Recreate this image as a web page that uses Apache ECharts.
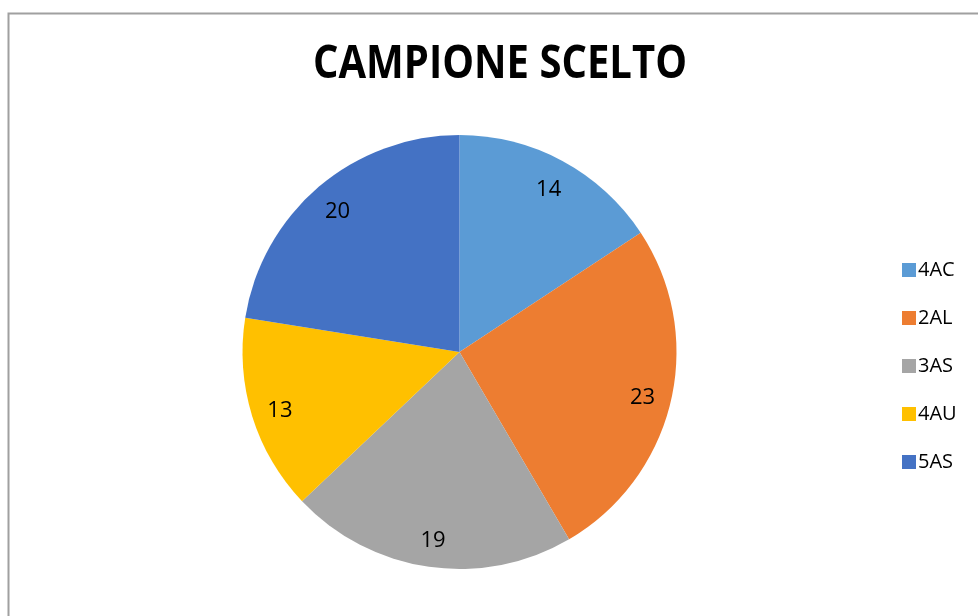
<!DOCTYPE html>
<html>
<head>
<meta charset="utf-8">
<script src="https://cdn.jsdelivr.net/npm/echarts@6/dist/echarts.min.js"></script>
<style>
  html, body { margin: 0; padding: 0; background: #fff; }
  #chart { width: 978px; height: 616px; }
</style>
</head>
<body>
<div id="chart"></div>
<script>
// Sample composition by class
const classes = ['4AC', '2AL', '3AS', '4AU', '5AS'];
const counts = [14, 23, 19, 13, 20];
const colors = ['#5B9BD5', '#ED7D31', '#A5A5A5', '#FFC000', '#4472C4'];
const titleText = 'CAMPIONE SCELTO';

const pieData = classes.map((name, i) => ({
  name: name,
  value: counts[i],
  itemStyle: { color: colors[i] }
}));

const center = [459.5, 352];
const outerR = 217;

// Title is drawn condensed so the heading keeps a compact width
const titleFont = 'bold 47px "Open Sans"';
const titleWidth = 374;
const measureCtx = document.createElement('canvas').getContext('2d');
measureCtx.font = titleFont;
const titleScaleX = titleWidth / measureCtx.measureText(titleText).width;

const chart = echarts.init(document.getElementById('chart'), null, { renderer: 'canvas' });
chart.setOption({
  animation: false,
  backgroundColor: '#ffffff',
  color: colors,
  graphic: [
    {
      type: 'rect',
      shape: { x: 8.5, y: 13.5, width: 1000, height: 700 },
      style: { fill: 'none', stroke: '#a0a0a0', lineWidth: 2 },
      silent: true,
      z: 100
    },
    {
      type: 'text',
      x: 500,
      y: 65,
      scaleX: titleScaleX,
      silent: true,
      style: {
        text: titleText,
        font: titleFont,
        fill: '#000000',
        align: 'center',
        verticalAlign: 'middle'
      }
    }
  ],
  legend: {
    orient: 'vertical',
    left: 897,
    top: 253,
    itemWidth: 14,
    itemHeight: 14,
    itemGap: 24,
    icon: 'rect',
    data: classes,
    textStyle: {
      fontFamily: 'Open Sans',
      fontSize: 20,
      lineHeight: 24,
      color: '#000000',
      padding: [0, 0, 0, -3]
    }
  },
  series: [
    {
      name: 'slices',
      type: 'pie',
      center: center,
      radius: [0, outerR],
      startAngle: 90,
      clockwise: true,
      label: { show: false },
      labelLine: { show: false },
      emphasis: { disabled: true },
      data: pieData
    },
    {
      // Transparent ring used only to place the value labels near the rim
      name: 'values',
      type: 'pie',
      center: center,
      radius: [153, outerR],
      startAngle: 90,
      clockwise: true,
      silent: true,
      legendHoverLink: false,
      itemStyle: { color: 'rgba(0,0,0,0)' },
      label: {
        show: true,
        position: 'inside',
        formatter: '{c}',
        fontFamily: 'Open Sans',
        fontSize: 22,
        color: '#000000',
        offset: [0, 3]
      },
      labelLine: { show: false },
      emphasis: { disabled: true },
      data: classes.map((name, i) => ({ name: name, value: counts[i] }))
    }
  ]
});
</script>
</body>
</html>
